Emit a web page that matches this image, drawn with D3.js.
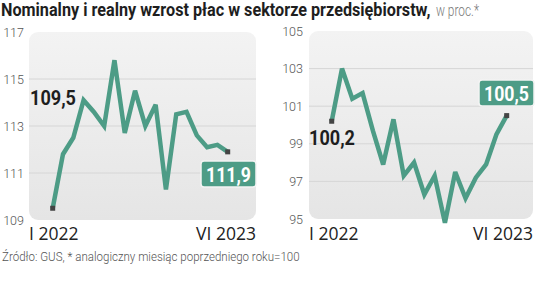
<!DOCTYPE html>
<html>
<head>
<meta charset="utf-8">
<script src="https://cdn.jsdelivr.net/npm/d3@7"></script>
<style>
  body { margin: 0; background: #fff; }
  svg { display: block; }
</style>
</head>
<body>
<div id="chart"></div>
<script>
// miesiace I 2022 - VI 2023
let months = ["I 2022","II 2022","III 2022","IV 2022","V 2022","VI 2022","VII 2022","VIII 2022","IX 2022",
              "X 2022","XI 2022","XII 2022","I 2023","II 2023","III 2023","IV 2023","V 2023","VI 2023"];
let nominal = [109.5,111.8,112.5,114.1,113.6,113.0,115.8,112.7,114.5,113.0,113.9,110.3,113.5,113.6,112.6,112.1,112.2,111.9];
let real    = [100.2,103.0,101.4,101.7,99.7,97.9,100.3,97.3,98.0,96.3,97.3,94.8,97.5,96.1,97.2,97.9,99.5,100.5];
let nominalTicks = [109,111,113,115,117];
let realTicks    = [95,97,99,101,103,105];

let larg = 536, alt = 293;
let teal = "#4d9c86";

let svg = d3.select("#chart").append("svg")
    .attr("width", larg).attr("height", alt);

let defs = svg.append("defs");
let grad = defs.append("linearGradient").attr("id","bg")
    .attr("x1",0).attr("y1",0).attr("x2",0).attr("y2",1);
grad.append("stop").attr("offset","0%").attr("stop-color","#f3f3f3");
grad.append("stop").attr("offset","100%").attr("stop-color","#e5e5e5");

// zweza tekst do zadanej szerokosci (czcionka "condensed")
function squeeze(sel, x, y, w) {
    let n = sel.node().getComputedTextLength();
    let k = Math.min(1, w / n);
    sel.attr("transform", "translate(" + x + "," + y + ") scale(" + k + ",1)");
}

// tytul
let t1 = svg.append("text")
    .style("font-family","Roboto, sans-serif").style("font-size","18px")
    .attr("font-weight","bold").attr("fill","#1e1e1e")
    .text("Nominalny i realny wzrost płac w sektorze przedsiębiorstw,");
squeeze(t1, 1, 16, 430);
let t2 = svg.append("text")
    .style("font-family","Roboto, sans-serif").style("font-size","17px")
    .attr("fill","#7a7a7a").attr("font-weight","300")
    .text("w proc.*");
squeeze(t2, 436, 16, 43);

function panel(cfg) {
    let g = svg.append("g");
    let y = d3.scaleLinear().domain(d3.extent(cfg.ticks)).range([cfg.bottom, cfg.top]);
    let x = d3.scalePoint().domain(months).range([cfg.px0, cfg.px1]);

    g.append("rect")
        .attr("x", cfg.left).attr("y", cfg.top)
        .attr("width", cfg.right - cfg.left).attr("height", cfg.bottom - cfg.top)
        .attr("rx", 9).attr("fill", "url(#bg)");

    // linie siatki
    g.selectAll(".grid").data(cfg.ticks.slice(1, -1)).enter()
        .append("line")
        .attr("x1", cfg.left).attr("x2", cfg.right)
        .attr("y1", d => y(d)).attr("y2", d => y(d))
        .attr("stroke", "#d6d6d6").attr("stroke-width", 1);

    let ax = g.append("g")
        .attr("transform", "translate(" + cfg.tickX + ",0)")
        .call(d3.axisLeft(y).tickValues(cfg.ticks).tickSize(0).tickPadding(0));
    ax.select(".domain").remove();
    ax.selectAll("text")
        .style("font-family","Roboto, sans-serif").style("font-size","12.5px")
        .style("font-weight","300").attr("fill","#555");

    // etykiety osi X
    g.append("text").attr("x", cfg.left).attr("y", 240)
        .style("font-family","'Open Sans', sans-serif").style("font-size","17.5px")
        .attr("fill","#222").text(months[0]);
    g.append("text").attr("x", cfg.right).attr("y", 240).attr("text-anchor","end")
        .style("font-family","'Open Sans', sans-serif").style("font-size","17.5px")
        .attr("fill","#222").text(months[months.length - 1]);

    let line = d3.line().x((d, i) => x(months[i])).y(d => y(d));
    g.append("path").datum(cfg.data)
        .attr("d", line)
        .attr("fill","none").attr("stroke", teal)
        .attr("stroke-width", 4.5).attr("stroke-linejoin","miter").attr("stroke-miterlimit", 3);

    let ends = [0, cfg.data.length - 1];
    g.selectAll(".dot").data(ends).enter()
        .append("rect")
        .attr("x", i => x(months[i]) - 2.5).attr("y", i => y(cfg.data[i]) - 2.5)
        .attr("width", 5).attr("height", 5).attr("fill", "#444");

    let fmt = v => d3.format(".1f")(v).replace(".", ",");

    // etykieta pierwszej wartosci
    let f = g.append("text")
        .style("font-family","Roboto, sans-serif").style("font-size","21px")
        .style("font-weight","bold").attr("fill","#1e1e1e")
        .text(fmt(cfg.data[0]));
    squeeze(f, cfg.firstX, cfg.firstY, 46);

    // etykieta ostatniej wartosci
    g.append("rect")
        .attr("x", cfg.boxX).attr("y", cfg.boxY)
        .attr("width", 55).attr("height", 26).attr("rx", 3)
        .attr("fill", teal).attr("stroke", "#f4f4f4").attr("stroke-width", 1.5);
    let l = g.append("text")
        .style("font-family","Roboto, sans-serif").style("font-size","21px")
        .style("font-weight","bold").attr("fill","#fff")
        .text(fmt(cfg.data[cfg.data.length - 1]));
    squeeze(l, cfg.boxX + 5, cfg.boxY + 20.5, 45);
}

panel({data: nominal, ticks: nominalTicks, left: 29, right: 256, top: 32, bottom: 220,
       px0: 52.7, px1: 227.7, tickX: 24, firstX: 30, firstY: 105, boxX: 201, boxY: 161});
panel({data: real, ticks: realTicks, left: 309, right: 533, top: 31, bottom: 219,
       px0: 331.7, px1: 506.7, tickX: 303, firstX: 309, firstY: 145, boxX: 479, boxY: 80});

let src = svg.append("text")
    .style("font-family","Roboto, sans-serif").style("font-size","12.5px")
    .style("font-weight","300").attr("fill","#555")
    .text("Źródło: GUS, * analogiczny miesiąc poprzedniego roku=100");
squeeze(src, 2, 261, 298);
</script>
</body>
</html>
